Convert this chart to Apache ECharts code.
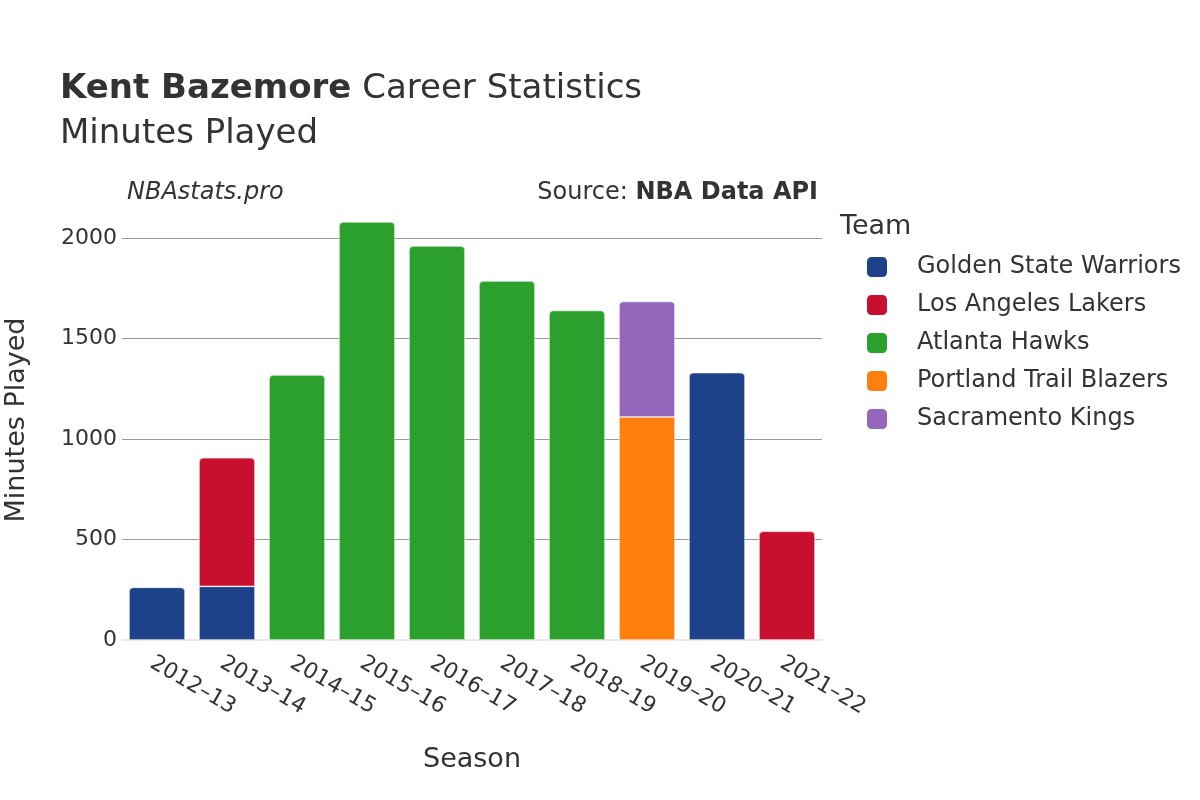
<!DOCTYPE html>
<html>
<head>
  <meta charset="UTF-8">
  <title>Kent Bazemore Career Statistics</title>
  <script src="https://cdn.jsdelivr.net/npm/echarts@6/dist/echarts.min.js"></script>
  <style>
    html, body { margin: 0; padding: 0; background: #fff; }
    #chart { width: 1200px; height: 800px; }
  </style>
</head>
<body>
  <div id="chart"></div>
  <script>
    // data
    const seasons = ['2012–13', '2013–14', '2014–15', '2015–16', '2016–17', '2017–18', '2018–19', '2019–20', '2020–21', '2021–22'];
    const teams = ['Golden State Warriors', 'Los Angeles Lakers', 'Atlanta Hawks', 'Portland Trail Blazers', 'Sacramento Kings'];
    const teamColors = ['#1d4289', '#c8102e', '#2ca02c', '#ff7f0e', '#9467bd'];
    const gswMinutes = [262, 267, null, null, null, null, null, null, 1331, null];
    const lalMinutes = [null, 640, null, null, null, null, null, null, null, 541];
    const atlMinutes = [null, null, 1319, 2081, 1961, 1787, 1640, null, null, null];
    const porMinutes = [null, null, null, null, null, null, null, 1110, null, null];
    const sacMinutes = [null, null, null, null, null, null, null, 575, null, null];
    const yTicks = [0, 500, 1000, 1500, 2000];

    const allSeries = [gswMinutes, lalMinutes, atlMinutes, porMinutes, sacMinutes];

    // top piece of each stack gets the rounded corners
    const topIndex = seasons.map((s, i) => {
      let top = -1;
      allSeries.forEach((arr, k) => { if (arr[i] != null) top = k; });
      return top;
    });

    const font = 'DejaVu Sans';

    const chart = echarts.init(document.getElementById('chart'));
    const option = {
      animation: false,
      textStyle: { fontFamily: font, color: '#333' },
      title: [
        {
          text: '{b|Kent Bazemore} Career Statistics',
          left: 55, top: 67,
          textStyle: {
            fontFamily: font, fontSize: 34, fontWeight: 'normal', color: '#333',
            rich: { b: { fontFamily: font, fontSize: 34, fontWeight: 'bold', color: '#333' } }
          }
        },
        {
          text: 'Minutes Played',
          left: 55, top: 112,
          textStyle: { fontFamily: font, fontSize: 34, fontWeight: 'normal', color: '#333' }
        },
        {
          text: 'NBAstats.pro',
          left: 122, top: 176,
          textStyle: { fontFamily: font, fontSize: 24, fontStyle: 'italic', fontWeight: 'normal', color: '#333' }
        },
        {
          text: 'Source: {b|NBA Data API}',
          right: 377, top: 176,
          textStyle: {
            fontFamily: font, fontSize: 24, fontWeight: 'normal', color: '#333',
            rich: { b: { fontFamily: font, fontSize: 24, fontWeight: 'bold', color: '#333' } }
          }
        },
        {
          text: 'Team',
          left: 835, top: 208,
          textStyle: { fontFamily: font, fontSize: 27, fontWeight: 'normal', color: '#333' }
        }
      ],
      legend: {
        orient: 'vertical',
        left: 865, top: 255,
        padding: 0,
        itemWidth: 22, itemHeight: 22, itemGap: 14,
        icon: 'roundRect',
        textStyle: { fontFamily: font, fontSize: 24, lineHeight: 22, color: '#333', padding: [0, 0, 0, 24] },
        data: teams
      },
      grid: { left: 122, right: 378, top: 200, bottom: 160, outerBoundsMode: 'none' },
      xAxis: {
        type: 'category',
        data: seasons,
        name: 'Season',
        nameLocation: 'middle',
        nameGap: 106,
        nameTextStyle: { fontFamily: font, fontSize: 27, color: '#333' },
        axisTick: { show: false },
        axisLine: { lineStyle: { color: '#e8e8e8', width: 2 } },
        axisLabel: { rotate: -30, fontSize: 22, color: '#333', margin: 12, align: 'left', verticalAlign: 'top' }
      },
      yAxis: {
        type: 'value',
        min: 0, max: 2190, interval: 500,
        name: 'Minutes Played',
        nameLocation: 'middle',
        nameGap: 92,
        nameTextStyle: { fontFamily: font, fontSize: 27, color: '#333' },
        axisLine: { show: false },
        axisTick: { show: false },
        axisLabel: {
          fontSize: 22, color: '#333', margin: 5, showMaxLabel: false,
          formatter: v => (yTicks.includes(v) ? String(v) : '')
        },
        splitLine: { lineStyle: { color: '#999', width: 1 }, showMaxLine: false, showMinLine: false }
      },
      series: teams.map((team, k) => ({
        name: team,
        type: 'bar',
        stack: 'minutes',
        barCategoryGap: '20%',
        itemStyle: { color: teamColors[k], borderColor: '#fff', borderWidth: 0.6 },
        data: allSeries[k].map((v, i) => (v == null ? null : {
          value: v,
          itemStyle: { borderRadius: topIndex[i] === k ? [4, 4, 0, 0] : 0 }
        }))
      }))
    };
    chart.setOption(option);
  </script>
</body>
</html>
